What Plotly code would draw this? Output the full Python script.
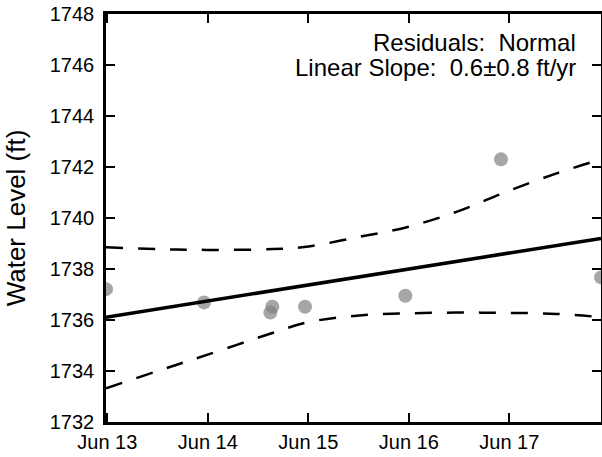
import datetime as dt

import plotly.graph_objects as go

t0 = dt.datetime(2016, 6, 13)

# observations: days after Jun 13 00:00, water level (ft)
obs_days = [-0.013, 0.962, 1.622, 1.642, 1.967, 2.965, 3.917, 4.912]
obs_level = [1737.21, 1736.69, 1736.29, 1736.52, 1736.52, 1736.95, 1742.30, 1737.67]

# linear fit
fit_days = [-0.013, 4.912]
fit_level = [1736.11, 1739.20]

# confidence band
band_days = [-0.013, 0.5, 0.99, 1.65, 1.98, 2.48, 2.98, 3.48, 3.97, 4.47, 4.912]
upper_level = [1738.85, 1738.78, 1738.75, 1738.78, 1738.87, 1739.24, 1739.64, 1740.25, 1741.03, 1741.75, 1742.30]
lower_level = [1733.32, 1734.0, 1734.63, 1735.50, 1735.90, 1736.17, 1736.26, 1736.29, 1736.28, 1736.24, 1736.11]

y_range = [1732, 1748]
y_ticks = [1732, 1734, 1736, 1738, 1740, 1742, 1744, 1746, 1748]

note_lines = ["Residuals:  Normal", "Linear Slope:  0.6±0.8 ft/yr"]


def to_dates(days):
    return [t0 + dt.timedelta(days=d) for d in days]


fig = go.Figure()
fig.add_trace(go.Scatter(
    x=to_dates(obs_days), y=obs_level, mode="markers",
    marker=dict(size=14, color="rgba(128,128,128,0.7)", line=dict(width=0)),
))
fig.add_trace(go.Scatter(
    x=to_dates(fit_days), y=fit_level, mode="lines",
    line=dict(color="black", width=3.5),
))
for lvl in (upper_level, lower_level):
    fig.add_trace(go.Scatter(
        x=to_dates(band_days), y=lvl, mode="lines", line_shape="spline",
        line=dict(color="black", width=2.5, dash="17px,15px"),
    ))

font = "Liberation Sans, Arial, sans-serif"
axis_common = dict(
    showgrid=False, zeroline=False, showline=True, linecolor="black", linewidth=2.5,
    mirror="allticks", ticks="inside", ticklen=9, tickwidth=1.5, tickcolor="black",
    tickfont=dict(family=font, size=20, color="black"), automargin=False,
    ticklabeloverflow="allow",
)
fig.update_xaxes(
    range=to_dates([obs_days[0], obs_days[-1]]),
    tickvals=to_dates([0, 1, 2, 3, 4]), tickformat="%b %d",
    **axis_common,
)
fig.update_yaxes(
    range=y_range, tickvals=y_ticks, ticklabelstandoff=5,
    title=dict(text="Water Level (ft)", font=dict(family=font, size=26, color="black"), standoff=17),
    **axis_common,
)
for txt, ypos in zip(note_lines, [0.929, 0.870]):
    fig.add_annotation(
        xref="paper", yref="paper", x=0.9495, y=ypos, xanchor="right", yanchor="middle",
        text=txt, showarrow=False, xshift=2,
        font=dict(family=font, size=24, color="black"),
    )
fig.update_layout(
    width=602, height=457, showlegend=False,
    plot_bgcolor="white", paper_bgcolor="white",
    margin=dict(l=106, r=1, t=14, b=35),
)
# drop the default page margin so the figure sits at the window's corner
fig.write_html(
    "out.html",
    config={"displayModeBar": False},
    post_script="document.body.style.margin='0';document.body.style.overflow='hidden';",
)
